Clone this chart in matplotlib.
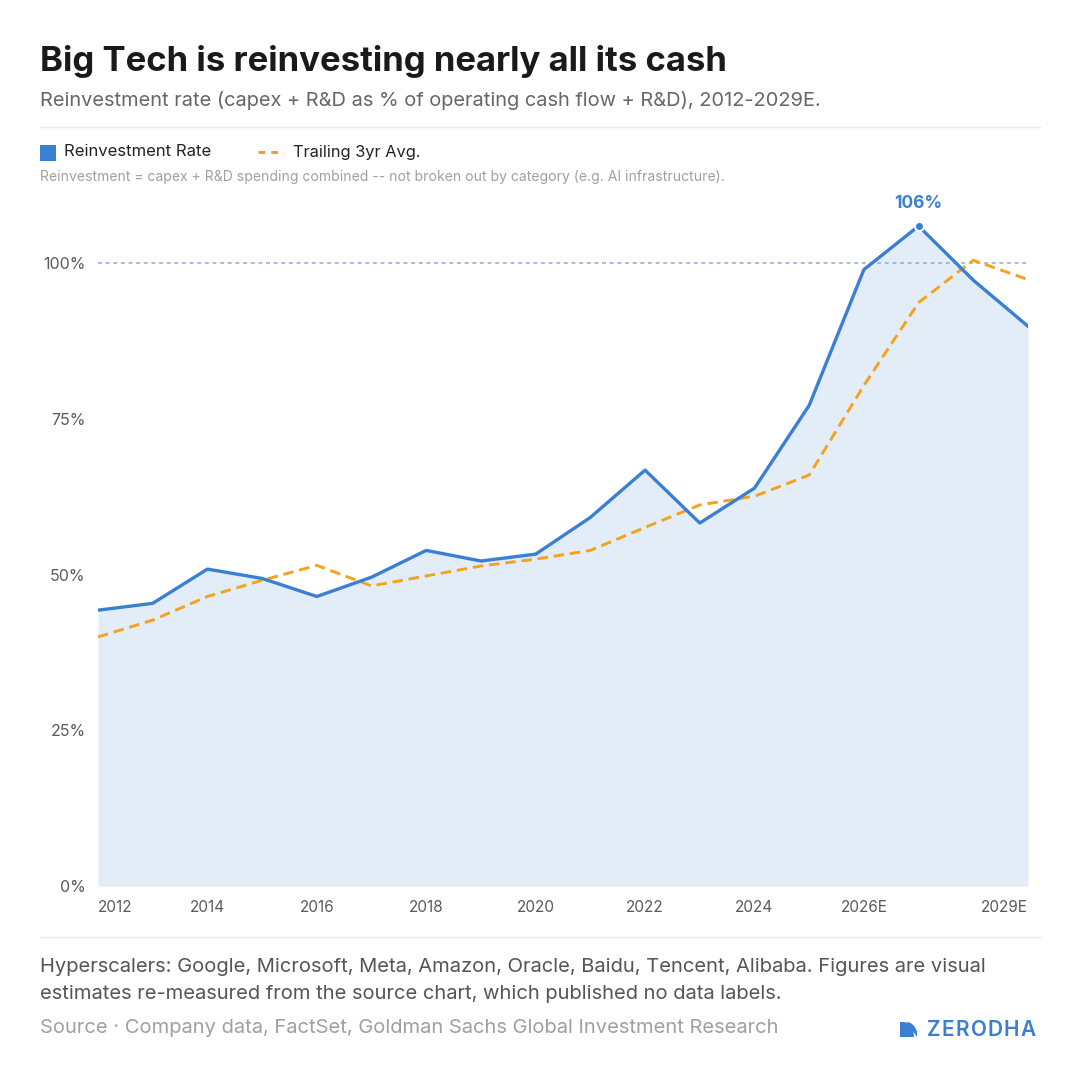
import numpy as np
import matplotlib.pyplot as plt
from matplotlib.lines import Line2D
from matplotlib.patches import Rectangle, Polygon

plt.rcParams['font.family'] = ['Inter', 'DejaVu Sans']

## ------------ data -----------------------------------------------
years = list(range(2012, 2030))
reinvest_rate = [44.3, 45.4, 50.9, 49.4, 46.5, 49.6, 53.9, 52.2, 53.3, 59.2,
                 66.8, 58.3, 63.9, 77.2, 99.0, 106.0, 97.3, 89.9]
trailing_3yr = [40.0, 42.7, 46.5, 49.1, 51.5, 48.2, 49.8, 51.4, 52.5, 53.9,
                57.6, 61.2, 62.6, 66.0, 80.4, 93.7, 100.5, 97.4]
xtick_years = [2012, 2014, 2016, 2018, 2020, 2022, 2024, 2026, 2029]
xtick_labels = ['2012', '2014', '2016', '2018', '2020', '2022', '2024', '2026E', '2029E']
ytick_vals = [0, 25, 50, 75, 100]
ytick_labels = ['0%', '25%', '50%', '75%', '100%']
peak_year = 2027
peak_label = '106%'
## ----------------------------------------------------------------

blue = '#3b7fd4'
fill_blue = '#e3edf8'
orange = '#f5a21c'

W = H = 1080
fig = plt.figure(figsize=(10.8, 10.8), dpi=100)

def px(x, y):
    return x / W, 1 - y / H

# plot area: x 98..1028, y 886 (0%) .. 170 (115%)
ax = fig.add_axes([98 / W, (H - 886) / H, 930 / W, 716 / H])
ax.set_xlim(2012, 2029)
ax.set_ylim(0, 115)

ax.fill_between(years, reinvest_rate, 0, color=fill_blue, lw=0, zorder=1)
ax.axhline(100, color='#86abdb', lw=1.1, ls=(0, (2.5, 2.5)), zorder=2)
ax.plot(years, trailing_3yr, color=orange, lw=2.1, ls=(0, (3.6, 2.0)), zorder=3)
ax.plot(years, reinvest_rate, color=blue, lw=2.4, zorder=4)

pk = years.index(peak_year)
ax.scatter([peak_year], [reinvest_rate[pk]], s=42, color=blue, edgecolor='white',
           linewidth=1.4, zorder=5)
ax.annotate(peak_label, (peak_year, reinvest_rate[pk]), xytext=(0, 16),
            textcoords='offset points', ha='center', va='center',
            color=blue, fontsize=12.5, fontweight='bold')

for s in ax.spines.values():
    s.set_visible(False)
ax.set_yticks(ytick_vals)
ax.set_yticklabels(ytick_labels)
ax.set_xticks(xtick_years)
ax.set_xticklabels(xtick_labels)
ax.tick_params(axis='y', length=0, labelsize=11.5, labelcolor='#5a5a5a', pad=9)
ax.tick_params(axis='x', length=0, labelsize=11, labelcolor='#5a5a5a', pad=10)
xt = ax.get_xticklabels()
xt[0].set_ha('left')
xt[-1].set_ha('right')

# header
fig.text(*px(40, 62), 'Big Tech is reinvesting nearly all its cash', fontsize=25,
         fontweight='bold', color='#1a1a1a', va='center', ha='left')
fig.text(*px(40, 100), 'Reinvestment rate (capex + R&D as % of operating cash flow + R&D), 2012-2029E.',
         fontsize=14.4, color='#666666', va='center', ha='left')
fig.add_artist(Line2D([40 / W, 1040 / W], [1 - 127 / H] * 2, color='#e8e8e8', lw=1))

# legend
fig.add_artist(Rectangle(px(40, 161), 16 / W, 16 / H, color=blue, lw=0))
fig.text(*px(64, 152), 'Reinvestment Rate', fontsize=12, color='#222222', va='center')
fig.add_artist(Line2D([258 / W, 284 / W], [1 - 152 / H] * 2, color=orange, lw=2.2,
                      ls=(0, (2.2, 2.0))))
fig.text(*px(293, 152), 'Trailing 3yr Avg.', fontsize=11.8, color='#222222', va='center')
fig.text(*px(40, 177), 'Reinvestment = capex + R&D spending combined -- not broken out by category (e.g. AI infrastructure).',
         fontsize=10.05, color='#a0a0a0', va='center')

# footer
fig.add_artist(Line2D([40 / W, 1040 / W], [1 - 937 / H] * 2, color='#e8e8e8', lw=1))
fig.text(*px(40, 967), 'Hyperscalers: Google, Microsoft, Meta, Amazon, Oracle, Baidu, Tencent, Alibaba. Figures are visual',
         fontsize=14.5, color='#555555', va='center')
fig.text(*px(40, 994), 'estimates re-measured from the source chart, which published no data labels.',
         fontsize=14.5, color='#555555', va='center')
fig.text(*px(40, 1028), 'Source · Company data, FactSet, Goldman Sachs Global Investment Research',
         fontsize=14.5, color='#a0a0a0', va='center')

# logo mark: square split by a curved white stripe
t = np.linspace(0, np.pi / 2, 20)
arc_x = 903 + 11 * np.sin(t)
arc_y = 1022 + 15 * (1 - np.cos(t))
left_pts = [px(900, 1037), px(900, 1022)] + [px(a, b) for a, b in zip(arc_x, arc_y)]
right_pts = [px(a + 3.5, b) for a, b in zip(arc_x, arc_y) if a + 3.5 <= 917] + [px(917, 1022)]
fig.add_artist(Polygon(left_pts, closed=True, color=blue, lw=0))
fig.add_artist(Polygon(right_pts + [px(917, 1037)], closed=True, color=blue, lw=0))

# wordmark with letter spacing
renderer = fig.canvas.get_renderer()
cx = 927.0
for ch in 'ZERODHA':
    tx = fig.text(*px(cx, 1029.5), ch, fontsize=15.0, fontweight='semibold', color=blue,
                  va='center', ha='left')
    cx += tx.get_window_extent(renderer).width + 1.3

fig.savefig('out.png', dpi=100)
